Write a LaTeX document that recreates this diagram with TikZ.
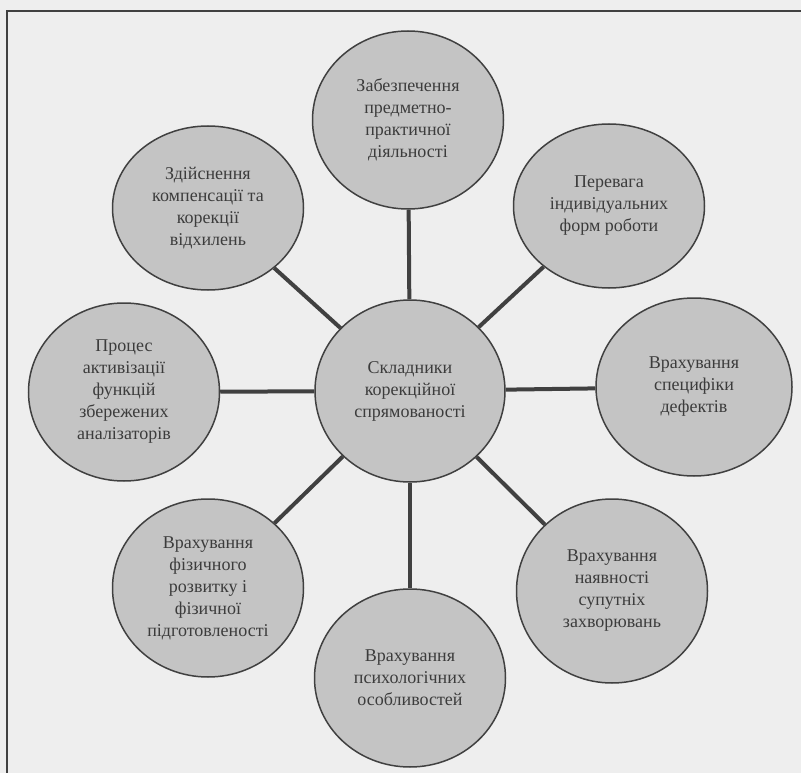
\documentclass[tikz,border=0pt]{standalone}
\usepackage{fontspec}
\setmainfont{Liberation Serif}
\usetikzlibrary{shapes.geometric}
\definecolor{bgc}{RGB}{238,238,238}
\definecolor{fillc}{RGB}{196,196,196}
\definecolor{linec}{RGB}{64,64,64}
\definecolor{textc}{RGB}{60,60,60}
\begin{document}
\begin{tikzpicture}[x=1pt,y=-1pt,
  bubble/.style={ellipse, draw=linec, line width=1.5pt, fill=fillc,
    minimum width=191pt, minimum height=178pt, inner sep=0pt,
    align=center, text=textc, font=\fontsize{18}{22}\selectfont},
  hub/.style={bubble, minimum width=190pt, minimum height=182pt},
  flat/.style={bubble, minimum height=164pt},
  link/.style={draw=linec, line width=4pt},
  frame/.style={draw=linec, line width=2pt}]
\fill[bgc] (0,0) rectangle (801,773);
\useasboundingbox (0,0) rectangle (801,773);
\draw[frame] (7,773) -- (7,11) -- (801,11);

\node[hub]    (c)  at (410,391) {Складники\\корекційної\\спрямованості};
\node[bubble] (t)  at (408,120) {Забезпечення\\предметно-\\практичної\\діяльності};
\node[flat]   (ul) at (208,208) {Здійснення\\компенсації та\\корекції\\відхилень};
\node[flat]   (ur) at (609,206) {Перевага\\індивідуальних\\форм роботи};
\node[bubble] (l)  at (124,392) {Процес\\активізації\\функцій\\збережених\\аналізаторів};
\node[bubble, minimum width=196pt] (r) at (694,387) {Врахування\\специфіки\\дефектів};
\node[bubble] (ll) at (208,588) {Врахування\\фізичного\\розвитку і\\фізичної\\підготовленості};
\node[bubble] (b)  at (410,678) {Врахування\\психологічних\\особливостей};
\node[bubble, minimum height=184pt] (lr) at (612,591) {Врахування\\наявності\\супутніх\\захворювань};

\foreach \n in {t,ul,ur,l,r,ll,b,lr}{
  \draw[link] (c) -- (\n);
}
\end{tikzpicture}
\end{document}
